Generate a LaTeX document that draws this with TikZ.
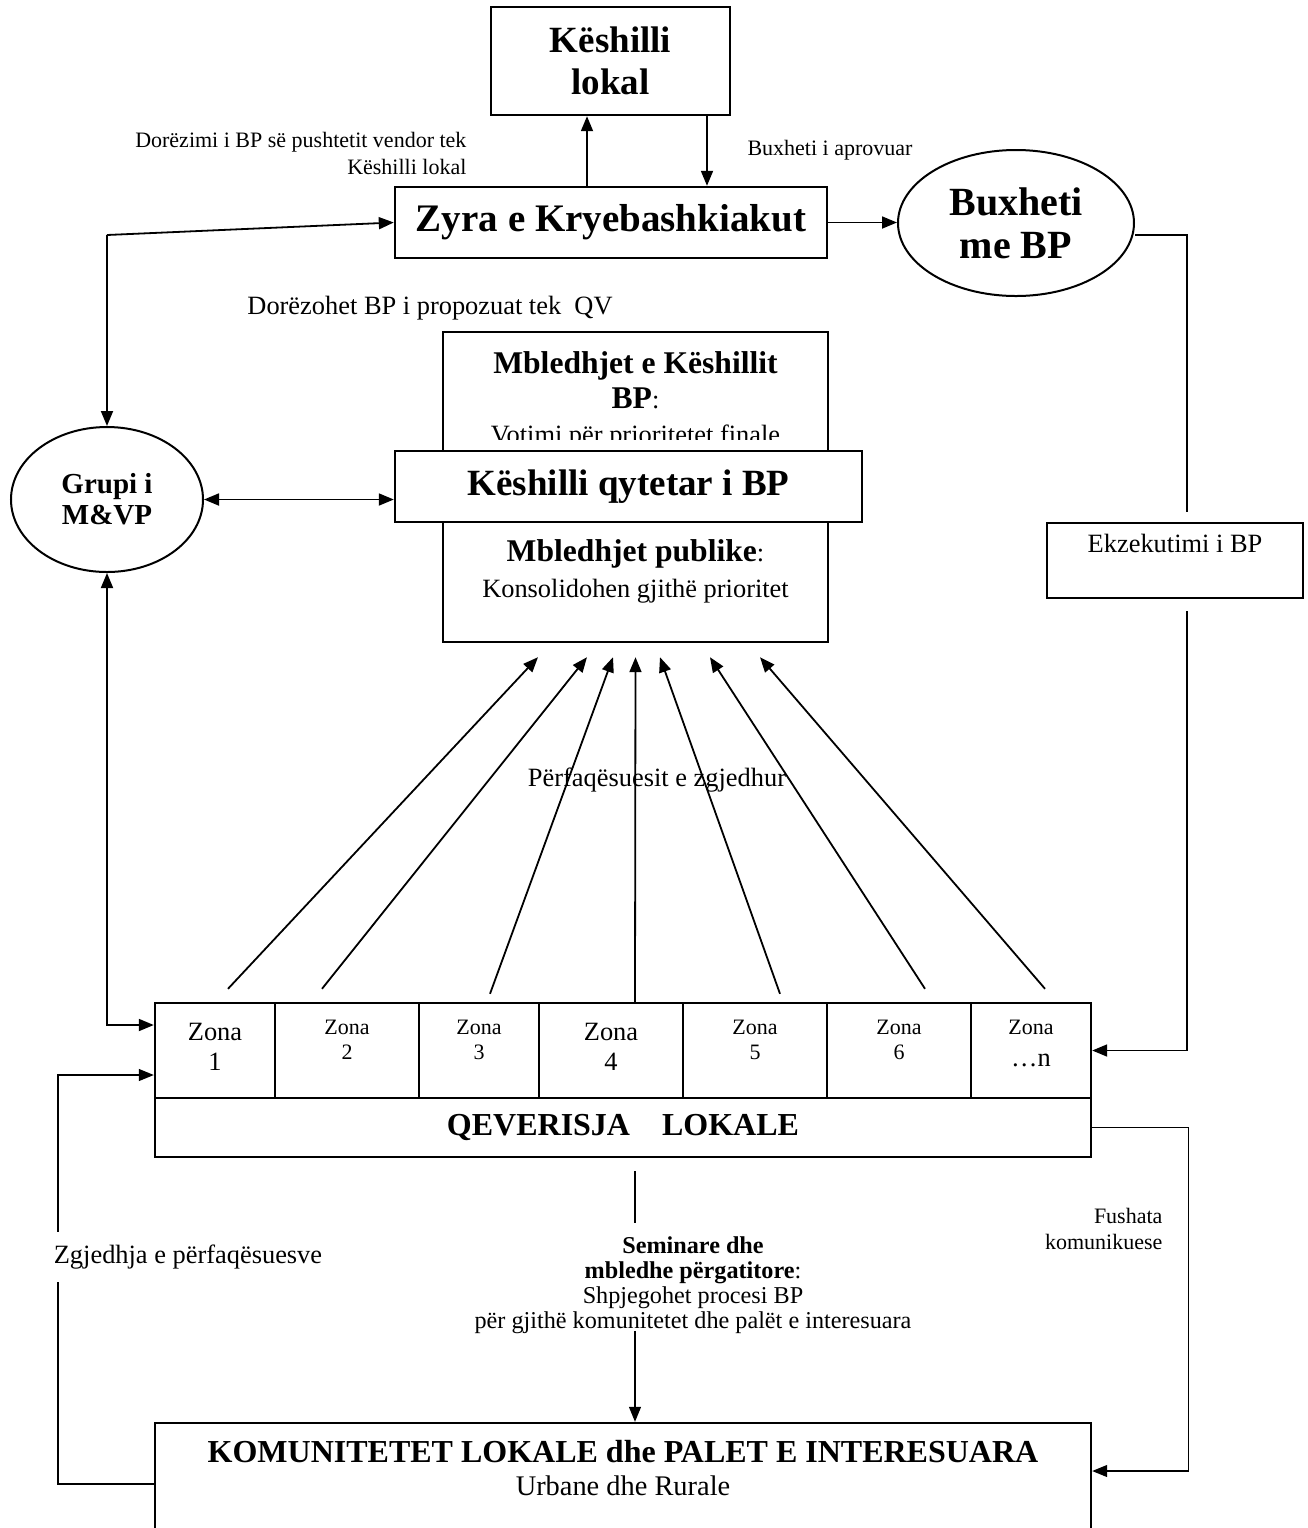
\documentclass[tikz,border=0pt]{standalone}
\usepackage{fontspec}
\setmainfont{Liberation Serif}
\usetikzlibrary{arrows.meta,shapes.geometric,positioning}
\newcommand\fsz[2]{\fontsize{#1}{#2}\selectfont}

\begin{document}
\begin{tikzpicture}[x=0.5pt,y=-0.5pt,line width=0.9pt,>={Triangle[length=7.5pt,width=6pt]},
  box/.style={draw,line width=1.2pt,inner sep=0pt,fill=white},
  oval/.style={draw,ellipse,line width=1pt,inner sep=0pt,align=center},
  zone/.style={draw,line width=1.2pt,inner sep=0pt,minimum height=47.5pt},
  thin/.style={line width=0.6pt}]
  \useasboundingbox (0,0) rectangle (1308,1528);
  \clip (0,0) rectangle (1308,1528);

  % lart: keshilli, zyra, buxheti
  \node[box,minimum width=119.5pt,minimum height=54pt,align=center,font=\bfseries\fsz{18.5}{21}] (lokal) at (610.5,61) {Këshilli\\lokal};
  \node[box,minimum width=216pt,minimum height=35.5pt,font=\bfseries\fsz{19.5}{21}] (zyra) at (611,222.5) {Zyra e Kryebashkiakut};
  \node[oval,minimum width=118pt,minimum height=73pt,font=\bfseries\fsz{20}{21.5}] (buxh) at (1016,223) {Buxheti\\me BP};
  \node[oval,minimum width=96pt,minimum height=72.5pt,font=\bfseries\fsz{14.5}{15.5}] (grupi) at (107,499.5) {Grupi i\\M\&VP};
  \node[box,minimum width=128pt,minimum height=37.5pt,label={[font=\fsz{13.2}{15},yshift=8.75pt]center:{Ekzekutimi i BP}}] (ekz) at (1175,560.5) {};

  % mbledhjet
  \node[box,minimum width=192.5pt,minimum height=64pt] (votim) at (635.5,396) {};
  \begin{scope}
    \clip (votim.north west) rectangle ([yshift=-54.5pt]votim.north east);
    \node[align=center,font=\fsz{13.2}{17.5}] (votim-t) at (635.5,400) {{\bfseries\fsz{15.8}{18}Mbledhjet e Këshillit}\\{\bfseries\fsz{15.8}{18}BP}:\\Votimi për prioritetet finale};
  \end{scope}
  \node[box,minimum width=192.5pt,minimum height=63.5pt,label={[align=center,font=\fsz{13.2}{18},yshift=3.5pt]center:{{\bfseries\fsz{15.8}{18}Mbledhjet publike}:\\Konsolidohen gjithë prioritet}}] (publik) at (635.5,578.5) {};
  \node[box,minimum width=233.5pt,minimum height=35.5pt,font=\bfseries\fsz{18.5}{21}] (qyt) at (628.5,486.5) {Këshilli qytetar i BP};

  % zonat
  \foreach \n/\x/\w in {1/215/60,2/347/72,3/479/60,4/611/72,5/755/72,6/899/72,n/1031/60}
    \node[zone,minimum width=\w pt] (z\n) at (\x,1050.5) {};
  \foreach \n in {1,4}
    \node[align=center,font=\fsz{13.2}{15}] (z\n-t) at ([yshift=1.75pt]z\n.center) {Zona\\\n};
  \foreach \n in {2,3,5,6}
    \node[align=center,font=\fsz{11}{12.5}] (z\n-t) at ([yshift=5.5pt]z\n.center) {Zona\\\n};
  \node[align=center,font=\fsz{13.2}{16}] (zn-t) at ([yshift=3.5pt]zn.center) {{\fsz{11}{12.5}Zona}\\…n};
  \node[box,minimum width=468pt,minimum height=29.5pt,font=\bfseries\fsz{16}{18}] (qev) at (623,1127.5) {QEVERISJA\hspace{16pt}LOKALE};
  \node[box,minimum width=468pt,minimum height=61pt,label={[align=center,font=\fsz{14.2}{16.5},yshift=8pt]center:{{\bfseries\fsz{16}{16.5}KOMUNITETET LOKALE dhe PALET E INTERESUARA}\\Urbane dhe Rurale}}] (kom) at (623,1484) {};

  % tekstet
  \node[align=right,anchor=east,font=\fsz{11}{13.5}] (dorez) at (474,153.5) {Dorëzimi i BP së pushtetit vendor tek\\Këshilli lokal};
  \node[font=\fsz{11}{13}] (aprov) at (830,150) {Buxheti i aprovuar};
  \node[font=\fsz{13.2}{15}] (dorqv) at (430,308) {Dorëzohet BP i propozuat tek\ \ QV};
  \node[font=\fsz{13.2}{15}] (perf) at (657,780) {Përfaqësuesit e zgjedhur};
  \node[align=right,anchor=east,font=\fsz{11}{13}] (fush) at (1170,1229) {Fushata\\komunikuese};
  \node[inner xsep=2pt,inner ysep=6pt,font=\fsz{13.2}{15}] (zgj) at (188,1257) {Zgjedhja e përfaqësuesve};
  \node[inner sep=0pt,align=center,font=\fsz{12.1}{12.5}] (sem) at (693,1285) {{\bfseries Seminare dhe}\\{\bfseries mbledhe përgatitore}:\\Shpjegohet procesi BP\\për gjithë komunitetet dhe palët e interesuara};

  % lidhjet
  \draw[->] ([xshift=-12pt]zyra.north) -- ([xshift=-12pt]zyra.north |- lokal.south);
  \draw[->] ([xshift=48.25pt]lokal.south) -- ([xshift=48.25pt]lokal.south |- zyra.north);
  \draw[->] (zyra.east) -- (zyra.east -| buxh.west);
  \draw ([yshift=-6pt]buxh.east) -| ([xshift=6pt,yshift=5pt]ekz.north);
  \draw[->] ([xshift=6pt,yshift=-6pt]ekz.south) |- (zn.east);
  \coordinate (gk) at (107,235);
  \draw[->] (gk) -- (zyra.west);
  \draw[->] (gk) -- (grupi.north);
  \draw[<->] (grupi.east) -- (grupi.east -| qyt.west);
  \draw[<->] (grupi.south) |- ([yshift=12.75pt]z1.west);
  \foreach \n/\a/\s/\b in {1/6.5/6.5/-48.75,2/-12.5/6.5/-24.25,3/5.5/4/-11.25,4/12/0/0,5/12.5/4/12.25,6/13/6.5/37.25,n/7/6.5/62.25}
    \draw[->] ([xshift=\a pt,yshift=\s pt]z\n.north) -- ([xshift=\b pt,yshift=-7pt]publik.south);
  \coordinate (lx) at (58,0);
  \draw[thin] (kom.west) -| (zgj.south -| lx);
  \draw[->,thin] (zgj.north -| lx) |- ([yshift=-12.25pt]z1.west);
  \draw[->,thin] (qev.east) -- ++(48pt,0) |- ([yshift=6.5pt]kom.east);
  \draw[thin] ([xshift=6pt,yshift=-6.5pt]qev.south) -- ++(0,-26pt);
  \draw[->,thin] ([xshift=6pt,yshift=45.5pt]kom.north) -- ([xshift=6pt]kom.north);
\end{tikzpicture}
\end{document}
